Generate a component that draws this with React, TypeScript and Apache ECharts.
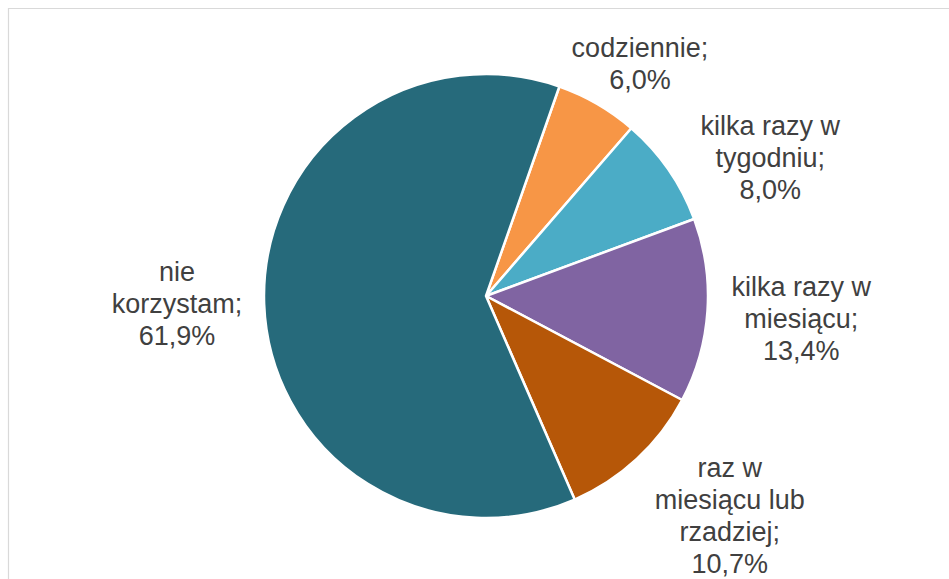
import React, { useEffect, useRef } from "react";
import * as echarts from "echarts";

// ---- data ----
const categories = [
  "codziennie",
  "kilka razy w tygodniu",
  "kilka razy w miesiącu",
  "raz w miesiącu lub rzadziej",
  "nie korzystam",
];
const shares = [6.0, 8.0, 13.4, 10.7, 61.9];

// ---- styling / layout ----
const colors = ["#F79646", "#4BACC6", "#8064A2", "#B65708", "#266A7B"];
const W = 949;
const H = 579;
const CX = 486;
const CY = 296;
const R = 222;
const FIRST_SLICE_ANGLE = 19.3; // degrees clockwise from 12 o'clock
const LABEL_GAP = 20;
const labelNudge: [number, number][] = [
  [14, 9],
  [16, 48],
  [4, 2],
  [20, -22],
  [-2, -3],
];

function wrap(text: string, maxChars: number): string {
  const words = text.split(" ");
  const lines: string[] = [];
  let cur = "";
  for (const w of words) {
    const next = cur ? cur + " " + w : w;
    if (next.length > maxChars && cur) {
      lines.push(cur);
      cur = w;
    } else {
      cur = next;
    }
  }
  if (cur) lines.push(cur);
  return lines.join("\n");
}

function fmt(v: number): string {
  return v.toFixed(1).replace(".", ",") + "%";
}

export default function App() {
  const ref = useRef<HTMLDivElement>(null);

  useEffect(() => {
    if (!ref.current) return;
    const chart = echarts.init(ref.current, undefined, { renderer: "svg" });

    const total = shares.reduce((a, b) => a + b, 0);
    const midAngles: number[] = [];
    let acc = 0;
    shares.forEach((v) => {
      const a0 = FIRST_SLICE_ANGLE + (acc / total) * 360;
      acc += v;
      const a1 = FIRST_SLICE_ANGLE + (acc / total) * 360;
      midAngles.push((a0 + a1) / 2);
    });

    chart.setOption({
      animation: false,
      backgroundColor: "#ffffff",
      graphic: [
        {
          type: "rect",
          shape: { x: 8.5, y: 8.5, width: 1200, height: 1200 },
          style: { fill: "none", stroke: "#d9d9d9", lineWidth: 1.2 },
          silent: true,
        },
      ],
      series: [
        {
          type: "pie",
          center: [CX, CY],
          radius: R,
          startAngle: 90 - FIRST_SLICE_ANGLE,
          clockwise: true,
          avoidLabelOverlap: false,
          itemStyle: { borderColor: "#ffffff", borderWidth: 2.5 },
          emphasis: { disabled: true },
          label: {
            show: true,
            position: "outside",
            color: "#404040",
            fontFamily: "Liberation Sans, Arial, sans-serif",
            fontSize: 27,
            lineHeight: 32,
            formatter: (p: any) => wrap(p.name + ";", 12) + "\n" + fmt(p.value),
          },
          labelLine: { show: false },
          labelLayout: (p: any) => {
            const i = p.dataIndex;
            const th = (midAngles[i] * Math.PI) / 180;
            const ux = Math.sin(th);
            const uy = -Math.cos(th);
            const w = p.labelRect.width;
            const h = p.labelRect.height;
            const kx = Math.abs(ux) > 1e-6 ? w / 2 / Math.abs(ux) : Infinity;
            const ky = Math.abs(uy) > 1e-6 ? h / 2 / Math.abs(uy) : Infinity;
            const D = R + LABEL_GAP + Math.min(kx, ky);
            return {
              x: CX + D * ux + labelNudge[i][0],
              y: CY + D * uy + labelNudge[i][1],
              align: "center",
              verticalAlign: "middle",
            };
          },
          data: categories.map((name, i) => ({
            name,
            value: shares[i],
            itemStyle: { color: colors[i] },
          })),
        },
      ],
    });

    return () => chart.dispose();
  }, []);

  return (
    <div
      ref={ref}
      style={{ position: "fixed", left: 0, top: 0, width: W, height: H }}
    />
  );
}
